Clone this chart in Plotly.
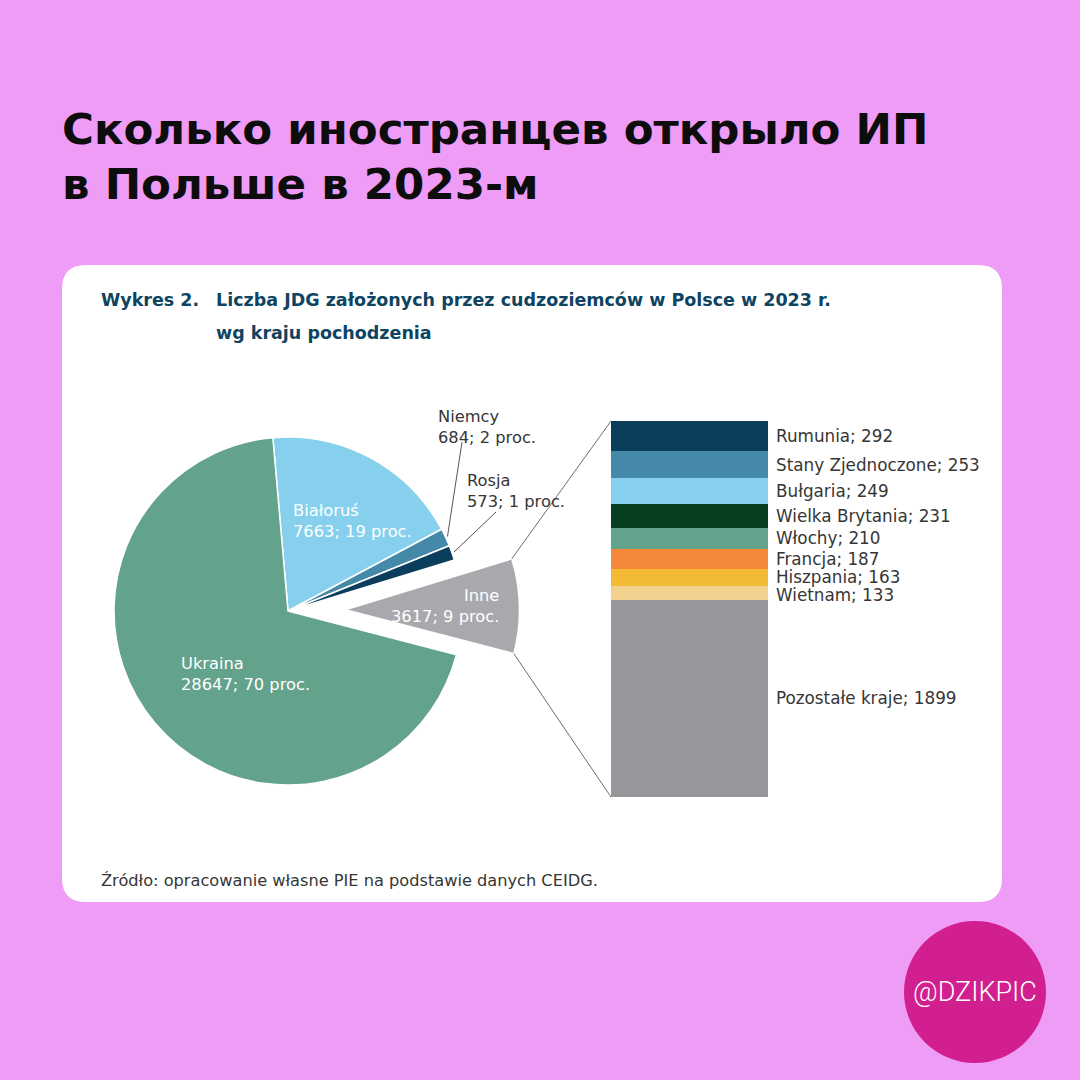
import math
import plotly.graph_objects as go

W = H = 1080

# ---------------- data ----------------
pie_labels = ["Białoruś", "Niemcy", "Rosja", "Inne", "Ukraina"]
pie_values = [7663, 684, 573, 3617, 28647]
pie_colors = ["#86D0EE", "#4589A8", "#0B3D5C", "#A9A9AD", "#63A38B"]

bar_labels = ["Rumunia", "Stany Zjednoczone", "Bułgaria", "Wielka Brytania",
              "Włochy", "Francja", "Hiszpania", "Wietnam", "Pozostałe kraje"]
bar_values = [292, 253, 249, 231, 210, 187, 163, 133, 1899]
bar_colors = ["#0B3D5C", "#4589A8", "#86D0EE", "#053F20", "#63A38B",
              "#F5893A", "#F2BB33", "#F2D08E", "#98989C"]

title_lines = ["Сколько иностранцев открыло ИП", "в Польше в 2023-м"]
chart_title_num = "Wykres 2."
chart_title_lines = ["Liczba JDG założonych przez cudzoziemców w Polsce w 2023 r.",
                     "wg kraju pochodzenia"]
source_text = "Źródło: opracowanie własne PIE na podstawie danych CEIDG."
badge_text = "@DZIKPIC"

# ---------------- geometry (pixels) ----------------
PINK = "#EF9CF7"
CX, CY, R, PULL = 288, 611, 174, 0.33
ROT = -5
BX0, BX1, BY0, BY1 = 611, 768, 421, 797
FONT = "DejaVu Sans"
TXT = "#363636"
NAVY = "#0E4461"


def fx(x):
    return x / W


def fy(y):
    return 1 - y / H


box = 2 * R * (1 + PULL)
pie_dom_x = [fx(CX - box / 2), fx(CX + box / 2)]
pie_dom_y = [fy(CY + box / 2), fy(CY - box / 2)]

total = sum(pie_values)
pulls = [PULL if l == "Inne" else 0 for l in pie_labels]

fig = go.Figure()
fig.add_trace(go.Pie(
    labels=pie_labels, values=pie_values, sort=False, direction="clockwise",
    rotation=ROT, pull=pulls, textinfo="none", hoverinfo="skip",
    marker=dict(colors=pie_colors, line=dict(color="white", width=1.5)),
    domain=dict(x=pie_dom_x, y=pie_dom_y), showlegend=False,
))

for lab, val, col in zip(bar_labels, bar_values, bar_colors):
    fig.add_trace(go.Bar(
        x=[0], y=[val], name=lab, marker=dict(color=col, line=dict(width=0)),
        hoverinfo="skip", showlegend=False, width=1,
    ))

# slice angles (degrees clockwise from 12 o'clock)
angles = {}
acc = ROT
for lab, val in zip(pie_labels, pie_values):
    a0 = acc
    a1 = acc + 360 * val / total
    angles[lab] = (a0, a1)
    acc = a1


def pt(cx, cy, r, a):
    t = math.radians(a)
    return cx + r * math.sin(t), cy - r * math.cos(t)


shapes = []
# white card
x0, y0, x1, y1, rr = 62, 265, 1002, 902, 24
path = (f"M {fx(x0+rr)},{fy(y0)} L {fx(x1-rr)},{fy(y0)} Q {fx(x1)},{fy(y0)} {fx(x1)},{fy(y0+rr)} "
        f"L {fx(x1)},{fy(y1-rr)} Q {fx(x1)},{fy(y1)} {fx(x1-rr)},{fy(y1)} "
        f"L {fx(x0+rr)},{fy(y1)} Q {fx(x0)},{fy(y1)} {fx(x0)},{fy(y1-rr)} "
        f"L {fx(x0)},{fy(y0+rr)} Q {fx(x0)},{fy(y0)} {fx(x0+rr)},{fy(y0)} Z")
shapes.append(dict(type="path", path=path, xref="paper", yref="paper",
                   fillcolor="white", line=dict(width=0), layer="below"))
# badge circle
BCX, BCY, BR = 975, 992, 71
shapes.append(dict(type="circle", xref="paper", yref="paper",
                   x0=fx(BCX - BR), x1=fx(BCX + BR), y0=fy(BCY + BR), y1=fy(BCY - BR),
                   fillcolor="#D21F8F", line=dict(width=0), layer="below"))

# connectors from exploded slice to bar
a0, a1 = angles["Inne"]
mid = (a0 + a1) / 2
pcx, pcy = pt(CX, CY, PULL * R, mid)
top_c = pt(pcx, pcy, R, a0)
bot_c = pt(pcx, pcy, R, a1)
for (sx, sy), (ex, ey) in [(top_c, (BX0, BY0)), (bot_c, (BX0, BY1))]:
    shapes.append(dict(type="line", xref="paper", yref="paper",
                       x0=fx(sx), y0=fy(sy), x1=fx(ex), y1=fy(ey),
                       line=dict(color="#6E6E6E", width=1)))

# leader lines for small slices
leader_end = {"Niemcy": (462, 442), "Rosja": (496, 512)}
for lab, (ex, ey) in leader_end.items():
    b0, b1 = angles[lab]
    sx, sy = pt(CX, CY, R + 2, (b0 + b1) / 2)
    shapes.append(dict(type="line", xref="paper", yref="paper",
                       x0=fx(sx), y0=fy(sy), x1=fx(ex), y1=fy(ey),
                       line=dict(color="#555555", width=1)))

ann = []
# main title
for txt, yy in zip(title_lines, [129, 184]):
    ann.append(dict(text=txt, x=fx(60), y=fy(yy), xref="paper", yref="paper",
                    xanchor="left", yanchor="middle", showarrow=False,
                    font=dict(family="DejaVu Sans", size=43.5, color="#0D0D0D", weight=700)))
# chart title
ann.append(dict(text=chart_title_num, x=fx(99), y=fy(300), xref="paper", yref="paper",
                xanchor="left", yanchor="middle", showarrow=False,
                font=dict(family=FONT, size=17.5, color=NAVY, weight=700)))
for txt, yy in zip(chart_title_lines, [300, 333]):
    ann.append(dict(text=txt, x=fx(214), y=fy(yy), xref="paper", yref="paper",
                    xanchor="left", yanchor="middle", showarrow=False,
                    font=dict(family=FONT, size=17.5, color=NAVY, weight=700)))
# source
ann.append(dict(text=source_text, x=fx(99), y=fy(880), xref="paper", yref="paper",
                xanchor="left", yanchor="middle", showarrow=False,
                font=dict(family=FONT, size=16.2, color=TXT)))
# badge
ann.append(dict(text=badge_text, x=fx(BCX), y=fy(BCY), xref="paper", yref="paper",
                xanchor="center", yanchor="middle", showarrow=False,
                font=dict(family="Roboto", size=27, color="white", weight=300)))

# pie labels
pie_lab_pos = {
    "Białoruś": (291, 521, "left", "white"),
    "Ukraina": (179, 674, "left", "white"),
    "Inne": (501, 606, "right", "white"),
    "Niemcy": (436, 427, "left", TXT),
    "Rosja": (465, 491, "left", TXT),
}
for lab, val in zip(pie_labels, pie_values):
    x, y, anc, col = pie_lab_pos[lab]
    pct = round(100 * val / total)
    ann.append(dict(text=f"{lab}<br>{val}; {pct} proc.", x=fx(x), y=fy(y),
                    xref="paper", yref="paper", xanchor=anc, yanchor="middle",
                    align=anc, showarrow=False,
                    font=dict(family=FONT, size=16.3, color=col)))

# bar labels (segment centres, kept at least MIN_GAP px apart)
MIN_GAP = 17.5
scale = (BY1 - BY0) / sum(bar_values)
cum = 0
prev = -1e9
for lab, val in zip(bar_labels, bar_values):
    ypix = BY0 + (cum + val / 2) * scale
    ypix = max(ypix, prev + MIN_GAP)
    prev = ypix
    ann.append(dict(text=f"{lab}; {val}", x=fx(BX1 + 7), y=fy(ypix), xref="paper", yref="paper",
                    xanchor="left", yanchor="middle", showarrow=False, borderpad=0,
                    font=dict(family=FONT, size=16.8, color=TXT)))
    cum += val

fig.update_layout(
    width=W, height=H, margin=dict(l=0, r=0, t=0, b=0),
    paper_bgcolor=PINK, plot_bgcolor="rgba(0,0,0,0)",
    barmode="stack", bargap=0,
    xaxis=dict(domain=[fx(BX0), fx(BX1)], range=[-0.5, 0.5], visible=False, fixedrange=True),
    yaxis=dict(domain=[fy(BY1), fy(BY0)], range=[sum(bar_values), 0], visible=False, fixedrange=True),
    shapes=shapes, annotations=ann, showlegend=False,
)

fig.write_html("out.html", config={"displayModeBar": False},
               post_script="document.body.style.margin='0';document.body.style.overflow='hidden';")
